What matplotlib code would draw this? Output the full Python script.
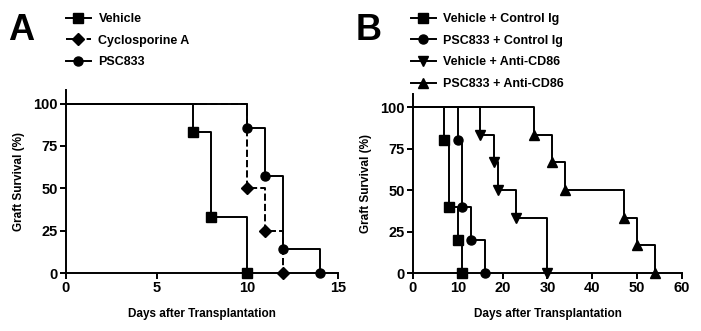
import matplotlib
matplotlib.use('Agg')
import matplotlib.pyplot as plt
from matplotlib.lines import Line2D

plt.rcParams['font.family'] = ['Liberation Sans', 'DejaVu Sans']
plt.rcParams['font.weight'] = 'bold'
plt.rcParams['axes.labelweight'] = 'bold'

# panel A: days of graft loss and survival after each loss
veh_days = [0, 7, 8, 10]
veh_surv = [100, 83.3, 33.3, 0]
csa_days = [0, 10, 11, 12]
csa_surv = [100, 50, 25, 0]
psc_days = [0, 10, 11, 12, 14]
psc_surv = [100, 85.7, 57.1, 14.3, 0]

# panel B
vc_days = [0, 7, 8, 10, 11]
vc_surv = [100, 80, 40, 20, 0]
pc_days = [0, 10, 11, 13, 16]
pc_surv = [100, 80, 40, 20, 0]
va_days = [0, 15, 18, 19, 23, 30]
va_surv = [100, 83.3, 66.7, 50, 33.3, 0]
pa_days = [0, 27, 31, 34, 47, 50, 54]
pa_surv = [100, 83.3, 66.7, 50, 33.3, 16.7, 0]

labels_a = ['Vehicle', 'Cyclosporine A', 'PSC833']
labels_b = ['Vehicle + Control Ig', 'PSC833 + Control Ig',
            'Vehicle + Anti-CD86', 'PSC833 + Anti-CD86']


def km(ax, days, surv, marker, ls='-'):
    ax.step(days, surv, where='post', color='black', lw=1.4, ls=ls, zorder=2)
    ax.plot(days[1:], surv[1:], ls='none', marker=marker, color='black', ms=6.5,
            clip_on=False, zorder=3)


def style(ax, xmax, xstep):
    ax.set_xlim(0, xmax)
    ax.set_ylim(0, 108)
    ax.set_xticks(range(0, xmax + 1, xstep))
    ax.set_yticks([0, 25, 50, 75, 100])
    ax.spines['top'].set_visible(False)
    ax.spines['right'].set_visible(False)
    ax.spines['left'].set_linewidth(1.4)
    ax.spines['bottom'].set_linewidth(1.4)
    ax.tick_params(width=1.4, length=4, labelsize=10.5, pad=2)
    ax.set_xlabel('Days after Transplantation', fontsize=8.5, labelpad=9)
    ax.set_ylabel('Graft Survival (%)', fontsize=8.5, labelpad=6)


fig = plt.figure(figsize=(7.01, 3.31), dpi=100)
axA = fig.add_axes([0.094, 0.175, 0.388, 0.553])
axB = fig.add_axes([0.589, 0.175, 0.384, 0.541])

km(axA, veh_days, veh_surv, 's')
km(axA, csa_days, csa_surv, 'D', ls='--')
km(axA, psc_days, psc_surv, 'o')
style(axA, 15, 5)

km(axB, vc_days, vc_surv, 's')
km(axB, pc_days, pc_surv, 'o')
km(axB, va_days, va_surv, 'v')
km(axB, pa_days, pa_surv, '^')
style(axB, 60, 10)

hA = [Line2D([], [], color='black', lw=1.4, marker=m, ms=6.5, ls=s)
      for m, s in zip(['s', 'D', 'o'], ['-', '--', '-'])]
fig.legend(hA, labels_a, loc='upper left', bbox_to_anchor=(0.078, 0.995),
           frameon=False, fontsize=9, handlelength=2.0, handletextpad=0.6,
           labelspacing=0.78)
hB = [Line2D([], [], color='black', lw=1.4, marker=m, ms=6.5)
      for m in ['s', 'o', 'v', '^']]
fig.legend(hB, labels_b, loc='upper left', bbox_to_anchor=(0.57, 0.995),
           frameon=False, fontsize=9, handlelength=2.0, handletextpad=0.6,
           labelspacing=0.78)

fig.text(0.012, 0.96, 'A', fontsize=26, fontweight='bold', va='top')
fig.text(0.508, 0.96, 'B', fontsize=26, fontweight='bold', va='top')

plt.savefig('out.png', dpi=100)
